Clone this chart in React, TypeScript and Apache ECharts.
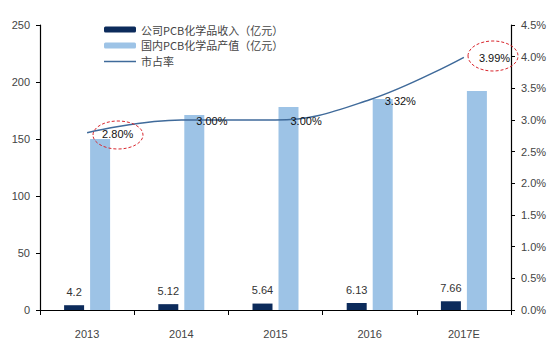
import React, { useEffect, useRef } from "react";
import * as echarts from "echarts";

const categories = ["2013", "2014", "2015", "2016", "2017E"];
const companyRevenue = [4.2, 5.12, 5.64, 6.13, 7.66];
const industryOutput = [150, 171, 178, 185, 192];
const marketShare = [2.8, 3.0, 3.0, 3.32, 3.99];
const leftTicks = [0, 50, 100, 150, 200, 250];
const rightTicks = [0, 0.5, 1, 1.5, 2, 2.5, 3, 3.5, 4, 4.5];
const seriesNames = ["公司PCB化学品收入（亿元）", "国内PCB化学品产值（亿元）", "市占率"];

const FONT = "'Liberation Sans', Arial, 'Noto Sans CJK SC', sans-serif";

export default function App() {
  const ref = useRef<HTMLDivElement>(null);
  useEffect(() => {
    const chart = echarts.init(ref.current!, null, { renderer: "svg" });
    chart.setOption({
      animation: false,
      textStyle: { fontFamily: FONT },
      legend: {
        orient: "vertical",
        left: 99,
        top: 19,
        itemWidth: 32,
        itemHeight: 6,
        itemGap: 5,
        textStyle: { fontFamily: "'Noto Sans CJK SC', sans-serif", fontSize: 11, color: "#444" },
        data: [
          { name: seriesNames[0] },
          { name: seriesNames[1] },
          { name: seriesNames[2], icon: "path://M0,0 L32,0 L32,1.5 L0,1.5 Z" },
        ],
      },
      grid: { left: 40, right: 45, top: 25, bottom: 40 },
      xAxis: {
        type: "category",
        data: categories,
        axisLine: { lineStyle: { color: "#000", width: 1.2 } },
        axisTick: { show: true, length: 5, lineStyle: { color: "#000" } },
        axisLabel: { color: "#444", fontSize: 11, margin: 18 },
      },
      yAxis: [
        {
          type: "value",
          min: leftTicks[0],
          max: leftTicks[leftTicks.length - 1],
          interval: 50,
          axisLine: { show: true, lineStyle: { color: "#000", width: 1.2 } },
          axisTick: { show: true, length: 4, lineStyle: { color: "#000" } },
          axisLabel: { color: "#444", fontSize: 11, margin: 10 },
          splitLine: { show: false },
        },
        {
          type: "value",
          min: rightTicks[0],
          max: rightTicks[rightTicks.length - 1],
          interval: 0.5,
          position: "right",
          axisLine: { show: true, lineStyle: { color: "#000", width: 1.2 } },
          axisTick: { show: true, length: 4, lineStyle: { color: "#000" } },
          axisLabel: {
            color: "#444",
            fontSize: 11,
            margin: 10,
            formatter: (v: number) => v.toFixed(1) + "%",
          },
          splitLine: { show: false },
        },
      ],
      series: [
        {
          name: seriesNames[0],
          type: "bar",
          data: companyRevenue,
          barWidth: 20,
          barGap: "30%",
          itemStyle: { color: "#0c2b5b" },
          label: {
            show: true,
            position: "top",
            distance: 8,
            color: "#333",
            fontSize: 11,
          },
        },
        {
          name: seriesNames[1],
          type: "bar",
          data: industryOutput,
          barWidth: 20,
          itemStyle: { color: "#9dc3e6" },
        },
        {
          name: seriesNames[2],
          type: "line",
          yAxisIndex: 1,
          data: marketShare,
          smooth: 0.4,
          showSymbol: true,
          symbol: "circle",
          symbolSize: 0.01,
          lineStyle: { color: "#3f6a9a", width: 1.5 },
          itemStyle: { color: "#3f6a9a" },
          label: {
            show: true,
            position: "right",
            distance: 15,
            offset: [0, 1],
            color: "#111",
            fontSize: 11,
            formatter: (p: any) => Number(p.value).toFixed(2) + "%",
          },
        },
      ],
      graphic: [
        {
          type: "ellipse",
          shape: { cx: 118, cy: 135, rx: 25, ry: 14 },
          style: { fill: "none", stroke: "#d9272e", lineWidth: 1, lineDash: [3, 2] },
          z: 100,
        },
        {
          type: "ellipse",
          shape: { cx: 493, cy: 56, rx: 25, ry: 15 },
          style: { fill: "none", stroke: "#d9272e", lineWidth: 1, lineDash: [3, 2] },
          z: 100,
        },
      ],
    });
    return () => chart.dispose();
  }, []);
  return <div ref={ref} style={{ width: 556, height: 350, margin: -8 }} />;
}
